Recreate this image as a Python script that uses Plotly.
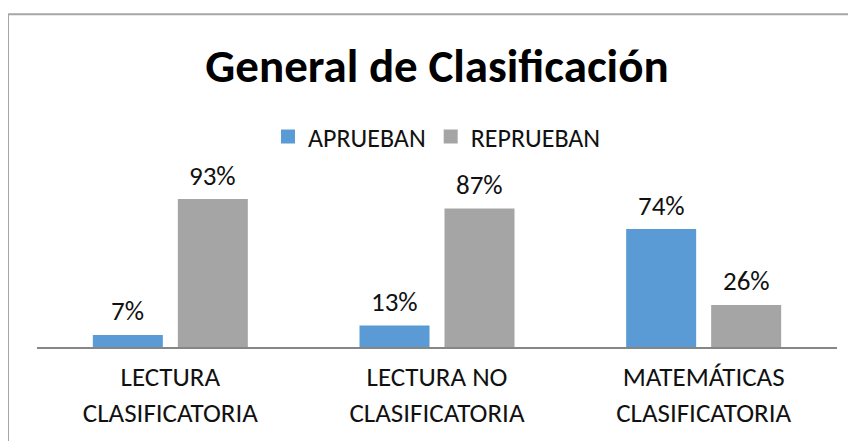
import plotly.graph_objects as go

categories = ["LECTURA<br>CLASIFICATORIA", "LECTURA NO<br>CLASIFICATORIA", "MATEMÁTICAS<br>CLASIFICATORIA"]
aprueban = [7, 13, 74]
reprueban = [93, 87, 26]
series_names = ["APRUEBAN", "REPRUEBAN"]
colors = ["#5B9BD5", "#A5A5A5"]

FONT = "Carlito, Lato, sans-serif"
OFF = 8  # page body margin
W, H = 856 - OFF, 441 - OFF
L, R, T, B = 37 - OFF, 19, 189 - OFF, 92
plot_w = W - L - R
plot_h = H - T - B


def px_to_paper_y(py):
    return (H - B - (py - OFF)) / plot_h


def px_to_paper_x(px):
    return ((px - OFF) - L) / plot_w


fig = go.Figure()
for name, vals, col in zip(series_names, [aprueban, reprueban], colors):
    fig.add_trace(go.Bar(x=categories, y=vals, name=name,
                         marker=dict(color=col, line=dict(width=2, color=col))))

slot = 85
for vals, sign in [(aprueban, -1), (reprueban, 1)]:
    for c, v in zip(categories, vals):
        fig.add_annotation(x=c, y=v, xref="x", yref="y", text=f"{v}%", showarrow=False,
                           xshift=sign * slot / 2, yshift=25, yanchor="middle",
                           font=dict(family=FONT, size=27, color="#111111"))

fig.add_shape(type="rect", xref="paper", yref="paper",
              x0=px_to_paper_x(8), x1=px_to_paper_x(900),
              y0=px_to_paper_y(480), y1=px_to_paper_y(12),
              line=dict(color="#a6a6a6", width=2), fillcolor="rgba(0,0,0,0)", layer="below")

fig.update_layout(
    width=W, height=H,
    margin=dict(l=L, r=R, t=T, b=B, pad=0),
    paper_bgcolor="white", plot_bgcolor="white",
    barmode="group", bargap=0.3625, bargroupgap=0.2,
    title=dict(text="<b>General de Clasificación</b>", x=0.5, xref="paper", xanchor="center",
               y=1 - (66 - OFF) / H, yref="container", yanchor="middle",
               font=dict(family=FONT, size=47, color="#000000")),
    legend=dict(orientation="h", x=px_to_paper_x(437), xanchor="center",
                y=px_to_paper_y(136), yanchor="middle",
                font=dict(family=FONT, size=26, color="#111111"),
                itemwidth=30, tracegroupgap=0, bgcolor="rgba(0,0,0,0)"),
    xaxis=dict(showline=True, linecolor="#868686", linewidth=2, ticks="", showgrid=False,
               tickfont=dict(family=FONT, size=27, color="#111111"), ticklabelstandoff=5),
    yaxis=dict(range=[0, 100], visible=False, showgrid=False, zeroline=False),
    showlegend=True,
)

fig.write_html("out.html")
